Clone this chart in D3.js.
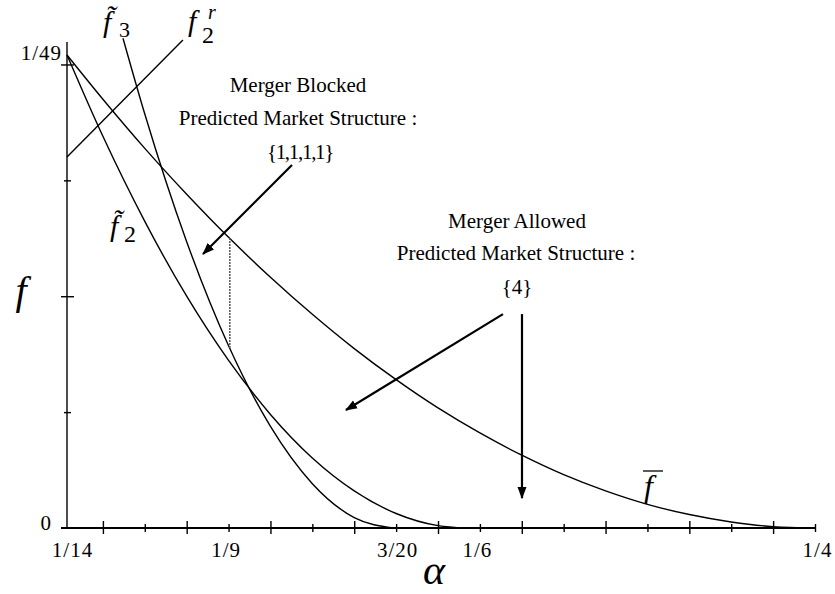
<!DOCTYPE html>
<html>
<head>
<meta charset="utf-8">
<script src="https://cdn.jsdelivr.net/npm/d3@7"></script>
<style>
  body { margin: 0; background: #fff; }
  svg { display: block; }
  text { font-family: "Liberation Serif", "Times New Roman", serif; fill: #000; }
</style>
</head>
<body>
<div id="chart"></div>
<script>
// values (alpha on x, f on y)
var alphaGrid = [1/14, 0.08, 0.09, 0.10, 0.11, 0.12, 0.13, 0.14, 0.15, 0.16, 0.17, 0.18, 0.19, 0.20, 0.21, 0.22, 0.23, 0.24, 0.25];
var fBar      = [0.02041, 0.01850, 0.01638, 0.01440, 0.01254, 0.01082, 0.00922, 0.00774, 0.00640, 0.00518, 0.00410, 0.00314, 0.00230, 0.00160, 0.00102, 0.00058, 0.00026, 0.00006, 0];

var f2Alpha = [1/14, 0.08, 0.09, 0.10, 0.11, 0.12, 0.13, 0.14, 0.15, 0.16, 1/6];
var f2Tilde = [0.02041, 0.01690, 0.01323, 0.01000, 0.00723, 0.00490, 0.00302, 0.00160, 0.000625, 0.0001, 0];

var f3Alpha = [0.0848, 0.09, 0.10, 0.11, 0.12, 0.13, 0.14, 0.1494];
var f3Tilde = [0.02113, 0.01786, 0.01235, 0.00786, 0.00438, 0.00191, 0.000447, 0];

var f2rAlpha = [1/14, 0.0991];
var f2r      = [0.01601, 0.02106];

// the vertical segment between f-bar and f3~
var gapAlpha = 0.1103;
var gapF = [0.01251, 0.00775];

// arrows: [alpha0, f0, alpha1, f1]
var arrows = [
  [0.12514, 0.01566, 0.10390, 0.01182],
  [0.17551, 0.00923, 0.13803, 0.00509],
  [0.18005, 0.00923, 0.18005, 0.00129]
];

var xTicks = [0.08, 0.09, 0.10, 0.11, 0.12, 0.13, 0.14, 0.15, 0.16, 0.17, 0.18, 0.19, 0.20, 0.21, 0.22, 0.23, 0.24, 0.25];
var xLabelAt = [1/14, 0.11, 0.15, 0.17, 0.25];
var xLabels = ["1/14", "1/9", "3/20", "1/6", "1/4"];
var yTicks = [0.005, 0.01, 0.015, 0.02];
var yLabelAt = [0, 1/49];
var yLabels = ["0", "1/49"];
var yTop = 0.02097;

var width = 835, height = 594;

var svg = d3.select("#chart")
  .append("svg")
    .attr("width", width)
    .attr("height", height);

var x = d3.scaleLinear()
  .domain([1/14, 0.25])
  .range([67, 815]);

var y = d3.scaleLinear()
  .domain([0, 1/49])
  .range([528, 55]);

// arrow head
svg.append("defs").append("marker")
    .attr("id", "head")
    .attr("viewBox", "0 -5 12 10")
    .attr("refX", 11)
    .attr("refY", 0)
    .attr("markerUnits", "userSpaceOnUse")
    .attr("markerWidth", 12)
    .attr("markerHeight", 10)
    .attr("orient", "auto")
  .append("path")
    .attr("d", "M0,-4.5L12,0L0,4.5Z")
    .attr("fill", "#000");

// X axis
var gx = svg.append("g")
  .attr("transform", "translate(0," + y(0) + ")")
  .call(d3.axisBottom(x).tickValues(xTicks).tickSize(0).tickFormat(""));
gx.select(".domain").attr("d", "M61,0H" + x(0.25)).attr("stroke-width", 2.2);
gx.selectAll(".tick line")
  .attr("stroke-width", 1.4)
  .attr("y1", function(d) { return Math.round(d * 100) % 2 === 0 ? -7 : -4; })
  .attr("y2", function(d) { return Math.round(d * 100) % 2 === 0 ? 6 : 4; });

var xShift = [5, -3, 1, -3, 2];
svg.append("g")
  .attr("transform", "translate(0," + y(0) + ")")
  .call(d3.axisBottom(x).tickValues(xLabelAt).tickSize(0).tickPadding(14)
    .tickFormat(function(d, i) { return xLabels[i]; }))
  .call(function(g) { g.select(".domain").remove(); })
  .selectAll("text")
    .attr("font-size", 21)
    .attr("letter-spacing", 1)
    .attr("dx", function(d, i) { return xShift[i]; })
    .style("font-family", "Liberation Serif");

// Y axis
var gy = svg.append("g")
  .attr("transform", "translate(" + x(1/14) + ",0)")
  .call(d3.axisLeft(y).tickValues(yTicks).tickSize(0).tickFormat(""));
gy.select(".domain").attr("d", "M0," + y(yTop) + "V" + y(0)).attr("stroke-width", 1.4);
gy.selectAll(".tick line")
  .attr("stroke-width", 1.4)
  .attr("x1", function(d) { return Math.round(d * 1000) % 10 === 0 ? -6 : -3; })
  .attr("x2", function(d) { return Math.round(d * 1000) % 10 === 0 ? 7 : 4; });

svg.append("g")
  .attr("transform", "translate(" + x(1/14) + ",0)")
  .call(d3.axisLeft(y).tickValues(yLabelAt).tickSize(0)
    .tickFormat(function(d, i) { return yLabels[i]; }))
  .call(function(g) { g.select(".domain").remove(); })
  .selectAll("text")
    .attr("font-size", 21)
    .attr("letter-spacing", 1)
    .style("font-family", "Liberation Serif")
    .attr("x", function(d) { return d === 0 ? -15 : -5; })
    .attr("dy", function(d) { return d === 0 ? "0.05em" : "0.2em"; });

// curves
var line = d3.line()
  .x(function(d) { return x(d[0]); })
  .y(function(d) { return y(d[1]); })
  .curve(d3.curveMonotoneX);

var curves = [
  d3.zip(alphaGrid, fBar),
  d3.zip(f2Alpha, f2Tilde),
  d3.zip(f3Alpha, f3Tilde),
  d3.zip(f2rAlpha, f2r)
];

svg.selectAll("path.curve")
  .data(curves)
  .enter()
  .append("path")
    .attr("class", "curve")
    .attr("d", line)
    .attr("fill", "none")
    .attr("stroke", "#000")
    .attr("stroke-width", 1.4);

svg.append("line")
  .attr("x1", x(gapAlpha)).attr("x2", x(gapAlpha))
  .attr("y1", y(gapF[0])).attr("y2", y(gapF[1]))
  .attr("stroke", "#555")
  .attr("stroke-width", 1.5)
  .attr("stroke-dasharray", "2,1");

svg.selectAll("line.arrow")
  .data(arrows)
  .enter()
  .append("line")
    .attr("class", "arrow")
    .attr("x1", function(d) { return x(d[0]); })
    .attr("y1", function(d) { return y(d[1]); })
    .attr("x2", function(d) { return x(d[2]); })
    .attr("y2", function(d) { return y(d[3]); })
    .attr("stroke", "#000")
    .attr("stroke-width", 2.2)
    .attr("marker-end", "url(#head)");

// annotation text
function centred(txt, cx, by, ls) {
  svg.append("text")
    .attr("x", cx).attr("y", by)
    .attr("text-anchor", "middle")
    .attr("font-size", 21)
    .attr("letter-spacing", ls || 0)
    .text(txt);
}
centred("Merger Blocked", 298, 92);
centred("Predicted Market Structure :", 298, 125);
centred("{1,1,1,1}", 300, 159, -1.3);
centred("Merger Allowed", 517, 228);
centred("Predicted Market Structure :", 516, 260);
centred("{4}", 517, 294);

// axis titles
svg.append("text")
  .attr("x", 21).attr("y", 304)
  .attr("text-anchor", "middle")
  .attr("font-size", 40)
  .attr("font-style", "italic")
  .text("f");
svg.append("text")
  .attr("x", 434).attr("y", 584)
  .attr("text-anchor", "middle")
  .attr("font-size", 42)
  .attr("font-style", "italic")
  .text("α");

// curve labels
function plain(txt, tx, ty, size, italic) {
  return svg.append("text")
    .attr("x", tx).attr("y", ty)
    .attr("font-size", size)
    .attr("font-style", italic ? "italic" : "normal")
    .text(txt);
}
// f3 tilde
plain("f\u0303", 103, 32, 30, true);
plain("3", 119, 37, 22);
// f2 r
plain("f", 188, 31, 30, true);
plain("2", 202, 43, 24);
plain("r", 208, 19, 20, true);
// f2 tilde
plain("f\u0303", 110, 236, 30, true);
plain("2", 124, 242, 24);
// f bar
plain("f", 644, 497, 32, true);
svg.append("line")
  .attr("x1", 643).attr("x2", 663)
  .attr("y1", 471).attr("y2", 471)
  .attr("stroke", "#000").attr("stroke-width", 1.3);
</script>
</body>
</html>
